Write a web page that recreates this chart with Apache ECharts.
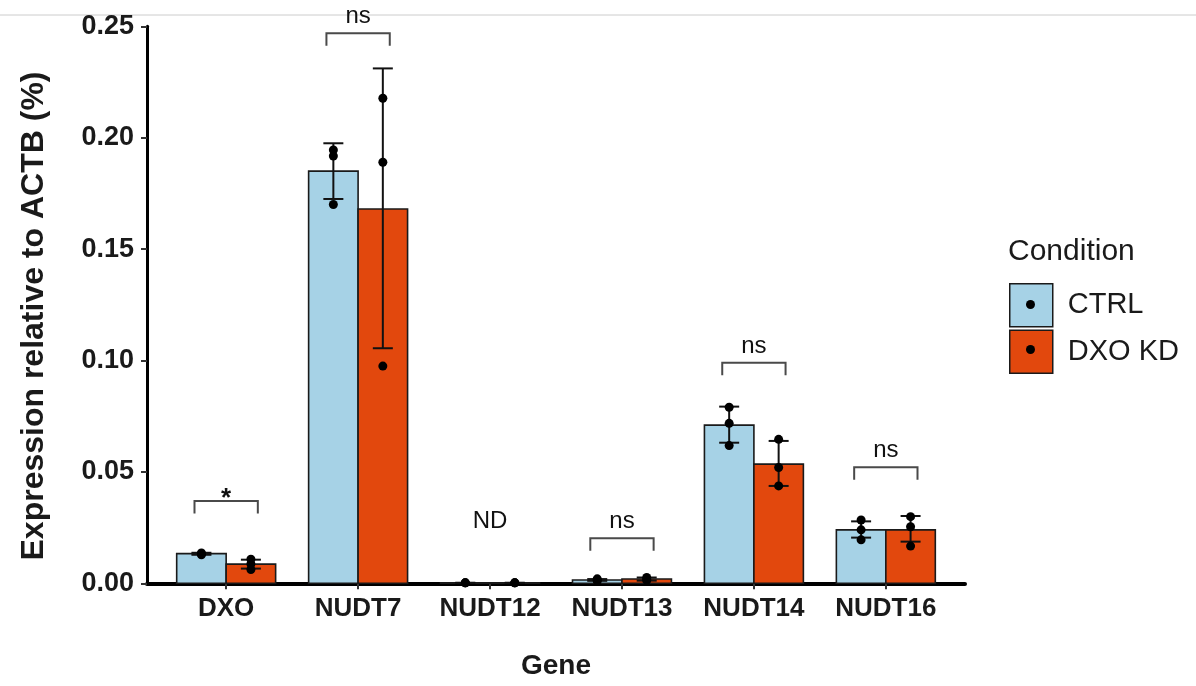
<!DOCTYPE html>
<html>
<head>
<meta charset="utf-8">
<script src="https://cdn.jsdelivr.net/npm/echarts@6/dist/echarts.min.js"></script>
<style>
html,body{margin:0;padding:0;background:#fff;}
#chart{width:1196px;height:686px;}
</style>
</head>
<body>
<div id="chart"></div>
<script>
// ---- data ----
var categories = ['DXO', 'NUDT7', 'NUDT12', 'NUDT13', 'NUDT14', 'NUDT16'];
var conditions = ['CTRL', 'DXO KD'];

var ctrlMean = [0.0133, 0.185, 0.0002, 0.0015, 0.0710, 0.0240];
var kdMean   = [0.0086, 0.168, 0.0002, 0.0019, 0.0535, 0.0240];

var ctrlErrLow  = [0.0128, 0.1725, 0.0002, 0.0011, 0.0631, 0.0205];
var ctrlErrHigh = [0.0137, 0.1975, 0.0002, 0.0019, 0.0793, 0.0278];
var kdErrLow    = [0.0066, 0.1055, 0.0002, 0.0012, 0.0437, 0.0187];
var kdErrHigh   = [0.0106, 0.2311, 0.0002, 0.0026, 0.0639, 0.0302];

var ctrlPoints = [
  [0.0128, 0.0132, 0.0136],
  [0.1945, 0.1918, 0.1700],
  [0.0002, 0.0002, 0.0002],
  [0.0010, 0.0015, 0.0020],
  [0.0790, 0.0718, 0.0618],
  [0.0284, 0.0240, 0.0195]
];
var kdPoints = [
  [0.0108, 0.0087, 0.0062],
  [0.2177, 0.1890, 0.0975],
  [0.0002, 0.0002, 0.0002],
  [0.0013, 0.0018, 0.0026],
  [0.0646, 0.0520, 0.0437],
  [0.0299, 0.0254, 0.0167]
];

var sigLabels   = ['*', 'ns', 'ND', 'ns', 'ns', 'ns'];
var sigHeight   = [0.0369, 0.2469, 0.0202, 0.0202, 0.0990, 0.0521];
var sigBracket  = [1, 1, 0, 1, 1, 1];

var yTicks = [0, 0.05, 0.10, 0.15, 0.20, 0.25];

// ---- styling ----
var FONT = 'Liberation Sans, Arial, sans-serif';
var BAR_W = 0.375;          // width of one bar in category units
var CTRL_COLOR = '#a6d2e6';
var KD_COLOR = '#e2480d';

function barSeries(name, means, side, color) {
  return {
    name: name,
    type: 'custom',
    z: 2,
    itemStyle: { color: color },
    data: means.map(function (v, i) { return [i + 1, v]; }),
    renderItem: function (params, api) {
      var x = api.value(0), v = api.value(1);
      var p0 = api.coord([side < 0 ? x - BAR_W : x, 0]);
      var p1 = api.coord([side < 0 ? x : x + BAR_W, v]);
      return {
        type: 'rect',
        shape: { x: p0[0], y: p1[1], width: p1[0] - p0[0], height: p0[1] - p1[1] },
        style: { fill: color, stroke: '#1a1a1a', lineWidth: 1.6 }
      };
    }
  };
}

function errSeries(name, lows, highs, side) {
  return {
    name: name,
    type: 'custom',
    z: 3,
    silent: true,
    data: lows.map(function (v, i) { return [i + 1 + side * BAR_W / 2, v, highs[i]]; }),
    renderItem: function (params, api) {
      var x = api.value(0);
      var lo = api.coord([x, api.value(1)]);
      var hi = api.coord([x, api.value(2)]);
      var cw = 10;
      var st = { stroke: '#111', lineWidth: 2, fill: null };
      return {
        type: 'group',
        children: [
          { type: 'line', shape: { x1: lo[0], y1: lo[1], x2: hi[0], y2: hi[1] }, style: st },
          { type: 'line', shape: { x1: lo[0] - cw, y1: lo[1], x2: lo[0] + cw, y2: lo[1] }, style: st },
          { type: 'line', shape: { x1: hi[0] - cw, y1: hi[1], x2: hi[0] + cw, y2: hi[1] }, style: st }
        ]
      };
    }
  };
}

function pointSeries(name, pts, side) {
  var data = [];
  pts.forEach(function (arr, i) {
    arr.forEach(function (v) { data.push([i + 1 + side * BAR_W / 2, v]); });
  });
  return {
    name: name,
    type: 'scatter',
    z: 4,
    symbol: 'circle',
    symbolSize: 9,
    itemStyle: { color: '#000', opacity: 1 },
    data: data
  };
}

var sigData = categories.map(function (c, i) { return [i + 1, sigHeight[i], sigBracket[i], i]; });

var sigSeries = {
  type: 'custom',
  z: 5,
  silent: true,
  data: sigData,
  renderItem: function (params, api) {
    var x = api.value(0), h = api.value(1), hasB = api.value(2), idx = api.value(3);
    var label = sigLabels[idx];
    var left = api.coord([x - 0.24, h]);
    var right = api.coord([x + 0.24, h]);
    var mid = api.coord([x, h]);
    var children = [];
    if (hasB) {
      children.push({
        type: 'polyline',
        shape: { points: [[left[0], left[1] + 12.5], [left[0], left[1]], [right[0], right[1]], [right[0], right[1] + 12.5]] },
        style: { stroke: '#4a4a4a', lineWidth: 2, fill: null }
      });
    }
    var isStar = label === '*';
    children.push({
      type: 'text',
      x: mid[0],
      y: isStar ? mid[1] - 2 : mid[1] - 16.5,
      style: {
        text: label,
        fill: '#111',
        font: (isStar ? 'bold 26px ' : '24px ') + FONT,
        align: 'center',
        verticalAlign: 'middle'
      }
    });
    return { type: 'group', children: children };
  }
};

var chart = echarts.init(document.getElementById('chart'), null, { renderer: 'canvas' });

chart.setOption({
  backgroundColor: '#ffffff',
  animation: false,
  title: {
    text: 'Condition',
    left: 1008,
    top: 237,
    padding: 0,
    textStyle: { fontFamily: FONT, fontSize: 30, fontWeight: 'normal', color: '#1a1a1a' }
  },
  legend: [{
    data: conditions,
    orient: 'vertical',
    left: 1009,
    top: 283,
    padding: 0,
    itemGap: 2,
    itemWidth: 43,
    itemHeight: 43,
    icon: 'rect',
    itemStyle: { borderColor: '#1a1a1a', borderWidth: 1.5 },
    textStyle: { fontFamily: FONT, fontSize: 29, color: '#1a1a1a', padding: [0, 0, 0, 10] }
  }, {
    data: conditions,
    orient: 'vertical',
    left: 1026,
    top: 283,
    padding: 0,
    itemGap: 2,
    itemWidth: 9,
    itemHeight: 9,
    icon: 'circle',
    selectedMode: false,
    itemStyle: { color: '#000', borderWidth: 0 },
    textStyle: { fontFamily: FONT, fontSize: 28, lineHeight: 43, height: 43, color: 'rgba(0,0,0,0)' }
  }],
  grid: {
    left: 147,
    right: 231,
    top: 26.3,
    bottom: 102.7,
    containLabel: false
  },
  xAxis: {
    type: 'value',
    min: 0.4,
    max: 6.6,
    splitLine: { show: false },
    axisLine: { show: true, onZero: false, lineStyle: { color: '#000', width: 4 } },
    axisTick: { show: true, customValues: [1, 2, 3, 4, 5, 6], length: 6, lineStyle: { color: '#333', width: 2 } },
    axisLabel: {
      customValues: [1, 2, 3, 4, 5, 6],
      formatter: function (v) { return categories[Math.round(v) - 1]; },
      fontFamily: FONT, fontSize: 26, fontWeight: 'bold', color: '#1a1a1a', margin: 13
    },
    name: 'Gene',
    nameLocation: 'middle',
    nameGap: 69,
    nameTextStyle: { fontFamily: FONT, fontSize: 28, fontWeight: 'bold', color: '#1a1a1a' }
  },
  yAxis: {
    type: 'value',
    min: 0,
    max: 0.25,
    interval: 0.05,
    splitLine: { show: false },
    axisLine: { show: true, lineStyle: { color: '#000', width: 3 } },
    axisTick: { show: true, length: 6, lineStyle: { color: '#333', width: 2 } },
    axisLabel: {
      formatter: function (v) { return v.toFixed(2); },
      fontFamily: FONT, fontSize: 27, fontWeight: 'bold', color: '#1a1a1a', margin: 13
    }
  },
  graphic: [
    {
      type: 'line',
      z: -1,
      shape: { x1: 0, y1: 15, x2: 1196, y2: 15 },
      style: { stroke: '#cccccc', lineWidth: 1 }
    },
    {
      type: 'text',
      x: 34,
      y: 316,
      rotation: Math.PI / 2,
      style: {
        text: 'Expression relative to ACTB (%)',
        font: 'bold 32px ' + FONT,
        fill: '#1a1a1a',
        align: 'center',
        verticalAlign: 'middle'
      }
    }
  ],
  series: [
    barSeries('CTRL', ctrlMean, -1, CTRL_COLOR),
    barSeries('DXO KD', kdMean, 1, KD_COLOR),
    errSeries('CTRL', ctrlErrLow, ctrlErrHigh, -1),
    errSeries('DXO KD', kdErrLow, kdErrHigh, 1),
    pointSeries('CTRL', ctrlPoints, -1),
    pointSeries('DXO KD', kdPoints, 1),
    sigSeries
  ]
});
</script>
</body>
</html>
